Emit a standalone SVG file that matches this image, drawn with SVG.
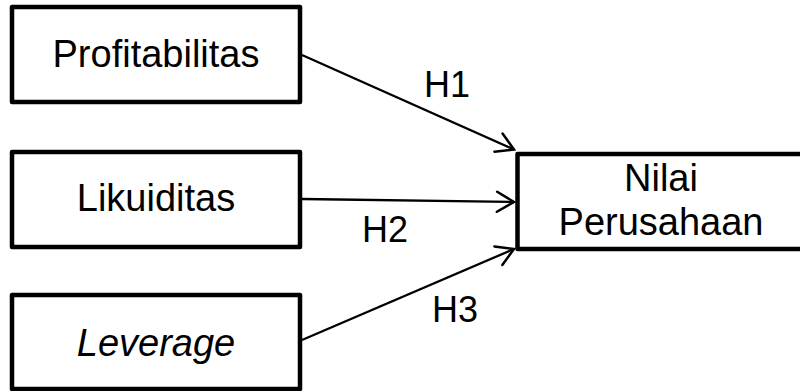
<svg xmlns="http://www.w3.org/2000/svg" width="800" height="391" viewBox="0 0 800 391">
<defs>
<marker id="arr" markerUnits="userSpaceOnUse" markerWidth="40" markerHeight="40" viewBox="-20 -20 40 40" refX="0" refY="0" orient="auto">
<path d="M-17,-10 L0,0 L-17,10" fill="none" stroke="#000" stroke-width="2.5" stroke-linecap="round" stroke-linejoin="miter"/>
</marker>
<style>
.box{fill:#fff;stroke:#000;stroke-width:4.5;stroke-linejoin:round}
.t{font-family:"Liberation Sans",Arial,sans-serif;font-size:38px;fill:#000;text-anchor:middle}
.h{font-size:36px}
.c{fill:none;stroke:#000;stroke-width:2.3}
</style>
</defs>
<rect width="800" height="391" fill="#fff"/>
<g id="connectors">
<line class="c" x1="302" y1="55" x2="514" y2="149.5" marker-end="url(#arr)"/>
<line class="c" x1="302" y1="199" x2="514" y2="202" marker-end="url(#arr)"/>
<line class="c" x1="302" y1="340" x2="514" y2="249" marker-end="url(#arr)"/>
<text class="t h" x="447" y="97">H1</text>
<text class="t h" x="385" y="242">H2</text>
<text class="t h" x="455" y="322">H3</text>
</g>
<g id="profitabilitas">
<rect class="box" x="12" y="7" width="288" height="95"/>
<text class="t" x="156" y="67">Profitabilitas</text>
</g>
<g id="likuiditas">
<rect class="box" x="12" y="152" width="288" height="95"/>
<text class="t" x="156" y="211">Likuiditas</text>
</g>
<g id="leverage">
<rect class="box" x="12" y="295" width="288" height="94"/>
<text class="t" x="156" y="356" font-style="italic">Leverage</text>
</g>
<g id="nilai-perusahaan">
<rect class="box" x="517.5" y="154" width="300" height="95"/>
<text class="t" x="661" y="191">Nilai</text>
<text class="t" x="661" y="235">Perusahaan</text>
</g>
</svg>
